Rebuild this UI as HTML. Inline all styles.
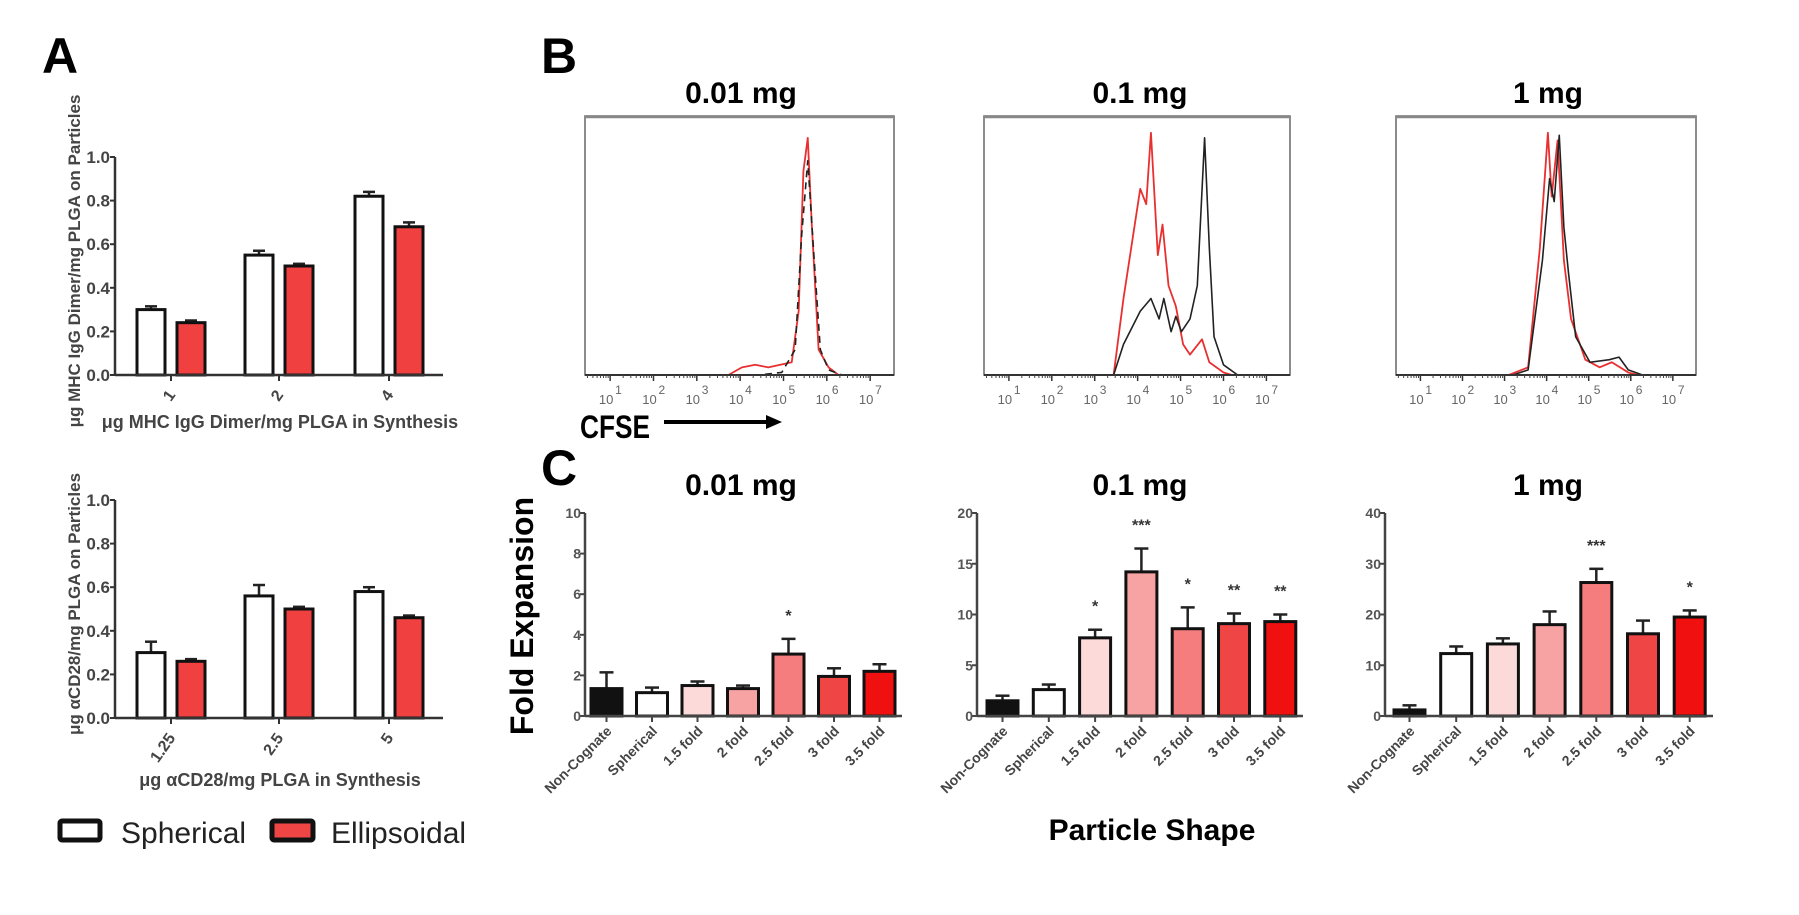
<!DOCTYPE html>
<html><head><meta charset="utf-8"><style>
html,body{margin:0;padding:0;background:#fff;}
svg{display:block;font-family:"Liberation Sans",Arial,sans-serif;}
</style></head><body>
<svg id="fig" width="1799" height="915" viewBox="0 0 1799 915" xmlns="http://www.w3.org/2000/svg">
<text x="42" y="73" font-size="50" font-weight="bold">A</text>
<text x="541" y="73" font-size="50" font-weight="bold">B</text>
<text x="541" y="485" font-size="50" font-weight="bold">C</text>
<g id="gA1"></g>
<g id="gA2"></g>
<g id="gB"></g>
<g id="gC"></g>
<g>
<rect x="60" y="821" width="40" height="19" fill="#fff" stroke="#111" stroke-width="5" rx="2"/>
<text x="121" y="843" font-size="30" fill="#222">Spherical</text>
<rect x="272" y="821" width="41" height="19" fill="#f04545" stroke="#111" stroke-width="5" rx="2"/>
<text x="331" y="843" font-size="30" fill="#222">Ellipsoidal</text>
</g>
<text x="580" y="438" font-size="32" font-weight="bold" textLength="70" lengthAdjust="spacingAndGlyphs">CFSE</text>
<line x1="664" y1="422" x2="768" y2="422" stroke="#000" stroke-width="4"/>
<polygon points="766,415 782,422 766,429" fill="#000"/>
<text transform="translate(533,616) rotate(-90)" text-anchor="middle" font-size="32" font-weight="bold">Fold Expansion</text>
<text x="1152" y="840" text-anchor="middle" font-size="30" font-weight="bold">Particle Shape</text>
</svg>
<script>
// ---- Panel A data ----
const aTopCats = ["1","2","4"];
const aTopSph = [0.30, 0.55, 0.82];
const aTopSphErr = [0.015, 0.02, 0.02];
const aTopEll = [0.24, 0.50, 0.68];
const aTopEllErr = [0.01, 0.01, 0.02];
const aBotCats = ["1.25","2.5","5"];
const aBotSph = [0.30, 0.56, 0.58];
const aBotSphErr = [0.05, 0.05, 0.02];
const aBotEll = [0.26, 0.50, 0.46];
const aBotEllErr = [0.01, 0.01, 0.01];
const aTicks = ["0.0","0.2","0.4","0.6","0.8","1.0"];
// ---- Panel B data (log10 CFSE, normalised height) ----
const b1RedX = [0.4,3.73,4.04,4.35,4.65,5.19,5.35,5.46,5.56,5.65,5.81,6.04,6.27,7.6];
const b1RedY = [0,0,0.03,0.04,0.03,0.05,0.25,0.8,0.93,0.6,0.1,0.03,0,0];
const b1BlkX = [0.4,4.42,4.96,5.27,5.42,5.56,5.69,5.85,6.04,6.35,7.6];
const b1BlkY = [0,0,0.01,0.1,0.55,0.84,0.5,0.1,0.02,0,0];
const b2RedX = [0.4,3.44,3.67,4.06,4.2,4.31,4.47,4.58,4.72,4.89,5.06,5.22,5.5,5.67,6.0,6.2,7.6];
const b2RedY = [0,0,0.3,0.73,0.67,0.95,0.47,0.59,0.35,0.27,0.12,0.08,0.14,0.05,0.01,0,0];
const b2BlkX = [0.4,3.44,3.67,4.06,4.31,4.5,4.61,4.78,4.89,5.02,5.22,5.39,5.56,5.67,5.78,6.0,6.33,7.6];
const b2BlkY = [0,0,0.12,0.25,0.3,0.22,0.3,0.17,0.23,0.17,0.22,0.35,0.93,0.5,0.15,0.04,0,0];
const b3RedX = [0.4,3.1,3.56,3.84,4.03,4.12,4.26,4.41,4.58,4.92,5.26,5.55,5.94,6.17,7.6];
const b3RedY = [0,0,0.03,0.5,0.95,0.7,0.92,0.45,0.22,0.06,0.03,0.05,0.01,0,0];
const b3BlkX = [0.4,3.2,3.56,3.9,4.07,4.18,4.3,4.41,4.52,4.69,5.03,5.49,5.72,5.94,6.28,7.6];
const b3BlkY = [0,0,0.02,0.45,0.77,0.68,0.94,0.58,0.4,0.15,0.05,0.06,0.07,0.02,0,0];
const bTitles = ["0.01 mg","0.1 mg","1 mg"];
const bDecades = [1,2,3,4,5,6,7];
// ---- Panel C data ----
const cCats = ["Non-Cognate","Spherical","1.5 fold","2 fold","2.5 fold","3 fold","3.5 fold"];
const c1Vals = [1.35,1.15,1.5,1.35,3.05,1.95,2.2];
const c1Err = [0.8,0.25,0.2,0.15,0.75,0.4,0.35];
const c1Stars = ["","","","","*","",""];
const c1Ticks = [0,2,4,6,8,10];
const c2Vals = [1.5,2.6,7.7,14.2,8.6,9.1,9.3];
const c2Err = [0.5,0.5,0.8,2.3,2.1,1.0,0.7];
const c2Stars = ["","","*","***","*","**","**"];
const c2Ticks = [0,5,10,15,20];
const c3Vals = [1.2,12.3,14.2,18.0,26.3,16.2,19.5];
const c3Err = [0.9,1.4,1.1,2.6,2.7,2.6,1.3];
const c3Stars = ["","","","","***","","*"];
const c3Ticks = [0,10,20,30,40];

const NS="http://www.w3.org/2000/svg";
function mk(parent,tag,attrs,txt){const e=document.createElementNS(NS,tag);for(const k in attrs)e.setAttribute(k,attrs[k]);if(txt!==undefined)e.textContent=txt;parent.appendChild(e);return e;}

function panelA(g,cats,sph,sphE,ell,ellE,y0,y1,ytitle,xtitle,xtY){
  const ax=115, right=443, ys=v=>y0-(y0-y1)*v;
  const tickX=[171,279,389];
  for(let i=0;i<aTicks.length;i++){
    const v=parseFloat(aTicks[i]);const y=ys(v);
    const t=mk(g,'line',{x1:ax-5,x2:ax,y1:y,y2:y,stroke:'#333','stroke-width':2});
    
    const l=mk(g,'text',{x:ax-5,y:y+6,'text-anchor':'end','font-size':17,'font-weight':'bold',fill:'#444'},aTicks[i]);
    
  }
  const bw=28;
  for(let i=0;i<cats.length;i++){
    [[sph,sphE,-20,'#fff','spherical'],[ell,ellE,20,'#f04040','ellipsoidal']].forEach(s=>{
      const v=s[0][i],e=s[1][i],cx=tickX[i]+s[2];
      const el=mk(g,'line',{x1:cx,x2:cx,y1:ys(v),y2:ys(v+e),stroke:'#222','stroke-width':2.5});
      
      const cap=mk(g,'line',{x1:cx-6,x2:cx+6,y1:ys(v+e),y2:ys(v+e),stroke:'#222','stroke-width':2.5});
      
      const r=mk(g,'rect',{x:cx-bw/2,y:ys(v),width:bw,height:ys(0)-ys(v),fill:s[3],stroke:'#111','stroke-width':3});
      
    });
    const tk=mk(g,'line',{x1:tickX[i],x2:tickX[i],y1:y0,y2:y0+6,stroke:'#333','stroke-width':2});
    
    const lb=mk(g,'text',{transform:`translate(${tickX[i]+5},${y0+20}) rotate(-55)`,'text-anchor':'end','font-size':16,'font-weight':'bold',fill:'#444'},cats[i]);
    
  }
  const yax=mk(g,'line',{x1:ax,x2:ax,y1:y1,y2:y0,stroke:'#333','stroke-width':2.5});
  
  const xax=mk(g,'line',{x1:ax,x2:right,y1:y0,y2:y0,stroke:'#333','stroke-width':2.5});
  
  const yt=mk(g,'text',{transform:`translate(80,${(y0+y1)/2-5}) rotate(-90)`,'text-anchor':'middle','font-size':17,'font-weight':'bold',fill:'#444'},ytitle);
  
  const xt=mk(g,'text',{x:280,y:xtY,'text-anchor':'middle','font-size':18,'font-weight':'bold',fill:'#444'},xtitle);
  
}
panelA(document.getElementById('gA1'),aTopCats,aTopSph,aTopSphErr,aTopEll,aTopEllErr,375,157,'μg MHC  IgG Dimer/mg PLGA on Particles','μg MHC IgG Dimer/mg PLGA in Synthesis',428);
panelA(document.getElementById('gA2'),aBotCats,aBotSph,aBotSphErr,aBotEll,aBotEllErr,718,500,'μg αCD28/mg PLGA on Particles','μg αCD28/mg PLGA in Synthesis',786);

// Panel B
const gB=document.getElementById('gB');
const boxes=[[585,894],[984,1290],[1396,1696]];
const titleX=[741,1140,1548];
const curves=[[b1RedX,b1RedY,b1BlkX,b1BlkY],[b2RedX,b2RedY,b2BlkX,b2BlkY],[b3RedX,b3RedY,b3BlkX,b3BlkY]];
const bTop=116,bBase=375,dMin=0.42,dMax=7.55;
for(let k=0;k<3;k++){
  const [L,R]=boxes[k];const xs=d=>L+(d-dMin)/(dMax-dMin)*(R-L);const hs=h=>bBase-h*(bBase-bTop-4);
  const t=mk(gB,'text',{x:titleX[k],y:103,'text-anchor':'middle','font-size':30,'font-weight':'bold'},bTitles[k]);
  
  const r=mk(gB,'rect',{x:L,y:bTop,width:R-L,height:bBase-bTop,fill:'#fff',stroke:'#666','stroke-width':1.5});
  
  const tl=mk(gB,'line',{x1:L,x2:R,y1:bTop+1,y2:bTop+1,stroke:'#888','stroke-width':2.5});
  
  const c=curves[k];
  const pr=mk(gB,'polyline',{points:c[0].map((d,i)=>xs(Math.min(Math.max(d,dMin),dMax))+','+hs(c[1][i])).join(' '),fill:'none',stroke:'#e83030','stroke-width':1.8,'stroke-linejoin':'round'});
  
  const pb=mk(gB,'polyline',{points:c[2].map((d,i)=>xs(Math.min(Math.max(d,dMin),dMax))+','+hs(c[3][i])).join(' '),fill:'none',stroke:'#222','stroke-width':1.6,'stroke-linejoin':'round','stroke-dasharray':k===0?'7,5':'none'});
  
  const ax=mk(gB,'line',{x1:L,x2:R,y1:bBase,y2:bBase,stroke:'#333','stroke-width':2});
  
  for(const d of bDecades){
    const x=xs(d);
    const tk=mk(gB,'line',{x1:x,x2:x,y1:bBase,y2:bBase+6,stroke:'#333','stroke-width':1.5});
    
    for(let m=2;m<10;m++){const xm=xs(d-1+Math.log10(m));if(xm>L){const mt=mk(gB,'line',{x1:xm,x2:xm,y1:bBase,y2:bBase+3,stroke:'#444','stroke-width':1});}}
    const lb=mk(gB,'text',{x:x-4,y:bBase+29,'text-anchor':'middle','font-size':13,fill:'#666'},'10');
    
    const sp=mk(gB,'text',{x:x+5,y:bBase+19,'font-size':12,fill:'#666'},String(d));
    
  }
}

// Panel C
const gC=document.getElementById('gC');
const cfg=[
 {ax:585,right:902,first:606.5,step:45.5,vals:c1Vals,err:c1Err,stars:c1Stars,ticks:c1Ticks,max:10,title:'0.01 mg',tx:741},
 {ax:977,right:1303,first:1002.5,step:46.3,vals:c2Vals,err:c2Err,stars:c2Stars,ticks:c2Ticks,max:20,title:'0.1 mg',tx:1140},
 {ax:1385,right:1713,first:1409.5,step:46.7,vals:c3Vals,err:c3Err,stars:c3Stars,ticks:c3Ticks,max:40,title:'1 mg',tx:1548}];
const colors=['#111','#fff','#fcdada','#f8a3a3','#f57d7d','#f04545','#f01010'];
const cY0=716,cY1=513,bw=31;
cfg.forEach((c,k)=>{
  const ys=v=>cY0-(cY0-cY1)*v/c.max;
  const t=mk(gC,'text',{x:c.tx,y:495,'text-anchor':'middle','font-size':30,'font-weight':'bold'},c.title);
  
  c.ticks.forEach(v=>{
    const y=ys(v);
    const tk=mk(gC,'line',{x1:c.ax-5,x2:c.ax,y1:y,y2:y,stroke:'#444','stroke-width':2});
    
    const l=mk(gC,'text',{x:c.ax-4,y:y+5,'text-anchor':'end','font-size':14,'font-weight':'bold',fill:'#555'},String(v));
    
  });
  c.vals.forEach((v,i)=>{
    const cx=c.first+c.step*i,e=c.err[i];
    const el=mk(gC,'line',{x1:cx,x2:cx,y1:ys(v),y2:ys(v+e),stroke:'#222','stroke-width':2.5});
    
    const cap=mk(gC,'line',{x1:cx-7,x2:cx+7,y1:ys(v+e),y2:ys(v+e),stroke:'#222','stroke-width':2.5});
    
    const r=mk(gC,'rect',{x:cx-bw/2,y:ys(v),width:bw,height:ys(0)-ys(v),fill:colors[i],stroke:'#111','stroke-width':3});
    
    if(c.stars[i]){
      const s=mk(gC,'text',{x:cx,y:ys(v+e)-18,'text-anchor':'middle','font-size':16,'font-weight':'bold',fill:'#333'},c.stars[i]);
      
    }
    const tk=mk(gC,'line',{x1:cx,x2:cx,y1:cY0,y2:cY0+6,stroke:'#444','stroke-width':2});
    
    const lb=mk(gC,'text',{transform:`translate(${cx+6},${cY0+16}) rotate(-45)`,'text-anchor':'end','font-size':14,'font-weight':'bold',fill:'#444'},cCats[i]);
    
  });
  const ya=mk(gC,'line',{x1:c.ax,x2:c.ax,y1:cY1,y2:cY0,stroke:'#444','stroke-width':2.5});
  
  const xa=mk(gC,'line',{x1:c.ax,x2:c.right,y1:cY0,y2:cY0,stroke:'#444','stroke-width':2.5});
  
});
</script>
</body></html>
